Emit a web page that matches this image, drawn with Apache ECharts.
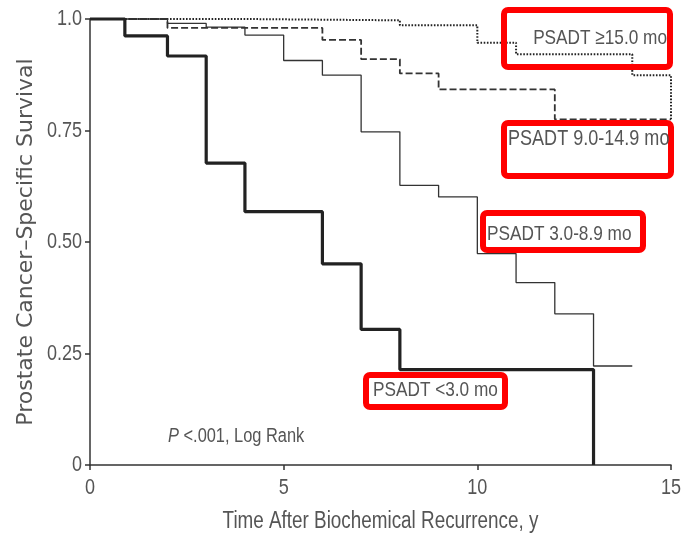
<!DOCTYPE html>
<html>
<head>
<meta charset="utf-8">
<script src="https://cdn.jsdelivr.net/npm/echarts@6/dist/echarts.min.js"></script>
<style>html,body{margin:0;padding:0;background:#fff;}#c{width:684px;height:538px;}</style>
</head>
<body>
<div id="c"></div>
<script>
// Kaplan-Meier step curves (time in years, survival proportion)
const lt3Times   = [0, 0.9, 2, 3, 4, 6, 7, 8, 13];
const lt3Surv    = [1, 0.962, 0.917, 0.677, 0.568, 0.451, 0.304, 0.214, 0];
const mid3Times  = [0, 2, 3, 4, 5, 6, 7, 8, 9, 10, 11, 12, 13, 14];
const mid3Surv   = [1, 0.99, 0.982, 0.964, 0.907, 0.874, 0.747, 0.627, 0.601, 0.474, 0.409, 0.339, 0.222, 0.222];
const mid9Times  = [0, 2, 6, 7, 8, 9, 12, 15];
const mid9Surv   = [1, 0.98, 0.953, 0.91, 0.878, 0.842, 0.775, 0.775];
const ge15Times  = [0, 4, 8, 10, 11, 14, 15];
const ge15Surv   = [1, 0.997, 0.986, 0.947, 0.921, 0.874, 0.775];

const xTicks = [0, 5, 10, 15];
const yTicks = [0, 0.25, 0.5, 0.75, 1];
const yTickLabels = ['0', '0.25', '0.50', '0.75', '1.0'];
const groupLabels = ['PSADT ≥15.0 mo', 'PSADT 9.0-14.9 mo', 'PSADT 3.0-8.9 mo', 'PSADT <3.0 mo'];
const pText = ' <.001, Log Rank';
const xName = 'Time After Biochemical Recurrence, y';
const yName = 'Prostate Cancer\u2013Specific Survival';

const FONT = '"Liberation Sans", Arial, sans-serif';
const TXT = '#555';
const SX = 0.82; // condensed look

function pairs(xs, ys) { return xs.map((x, i) => [x, ys[i]]); }

const chart = echarts.init(document.getElementById('c'), null, {renderer: 'canvas'});

function box(x, y, w, h) {
  return {type: 'rect', z: 100, shape: {x, y, width: w, height: h, r: 4},
          style: {fill: 'none', stroke: '#ff0000', lineWidth: 6}};
}
function label(text, x, y, align, size, rich) {
  const st = {text, x: 0, y: 0, align: align, verticalAlign: 'middle',
              fontSize: size || 21, fontFamily: FONT, fill: TXT};
  if (rich) st.rich = rich;
  return {type: 'text', z: 101, x, y, scaleX: SX, scaleY: 1, style: st};
}

chart.setOption({
  animation: false,
  backgroundColor: '#fff',
  grid: {left: 90, right: 13, top: 19, bottom: 73, containLabel: false},
  xAxis: {
    type: 'value', min: 0, max: 15, interval: 5,
    axisLine: {show: true, lineStyle: {color: '#333', width: 1.5}},
    axisTick: {show: true, length: 5, lineStyle: {color: '#333', width: 1.5}},
    axisLabel: {show: false},
    splitLine: {show: false}
  },
  yAxis: {
    type: 'value', min: 0, max: 1, interval: 0.25,
    name: yName, nameLocation: 'middle', nameGap: 53, nameRotate: 90,
    nameTextStyle: {fontSize: 22, fontFamily: '"DejaVu Sans", sans-serif', color: TXT},
    axisLine: {show: true, lineStyle: {color: '#333', width: 1.5}},
    axisTick: {show: true, length: 5, lineStyle: {color: '#333', width: 1.5}},
    axisLabel: {show: false},
    splitLine: {show: false}
  },
  series: [
    {type: 'line', step: 'end', symbol: 'none', clip: false, data: pairs(ge15Times, ge15Surv),
     lineStyle: {color: '#222', width: 2, type: [1.6, 1.6]}},
    {type: 'line', step: 'end', symbol: 'none', clip: false, data: pairs(mid9Times, mid9Surv),
     lineStyle: {color: '#333', width: 1.8, type: [7, 3]}},
    {type: 'line', step: 'end', symbol: 'none', clip: false, data: pairs(mid3Times, mid3Surv),
     lineStyle: {color: '#333', width: 1.3}},
    {type: 'line', step: 'end', symbol: 'none', clip: false, data: pairs(lt3Times, lt3Surv),
     lineStyle: {color: '#222', width: 3.2}}
  ]
});

// tick labels and axis title placed through the chart's own scales
const g = [];
xTicks.forEach(v => {
  const p = chart.convertToPixel({gridIndex: 0}, [v, 0]);
  g.push(label(String(v), p[0], p[1] + 23, 'center', 22));
});
yTicks.forEach((v, i) => {
  const p = chart.convertToPixel({gridIndex: 0}, [0, v]);
  g.push(label(yTickLabels[i], p[0] - 8, p[1], 'right', 22));
});
const x0 = chart.convertToPixel({gridIndex: 0}, [0, 0]);
const x1 = chart.convertToPixel({gridIndex: 0}, [15, 0]);
g.push(label(xName, (x0[0] + x1[0]) / 2, x0[1] + 57, 'center', 23));

g.push(box(504, 10, 166, 57), box(504, 123, 167, 53), box(483, 213, 160, 37), box(366, 375, 139, 32));
g.push(label(groupLabels[0], 667, 38, 'right'));
g.push(label(groupLabels[1], 508, 139, 'left', 22));
g.push(label(groupLabels[2], 487, 234, 'left'));
g.push(label(groupLabels[3], 373, 390, 'left'));
g.push(label('{i|P}' + pText, 168, 436, 'left', 20,
  {i: {fontStyle: 'italic', fontSize: 20, fontFamily: FONT, fill: TXT}}));

chart.setOption({graphic: g});
</script>
</body>
</html>
